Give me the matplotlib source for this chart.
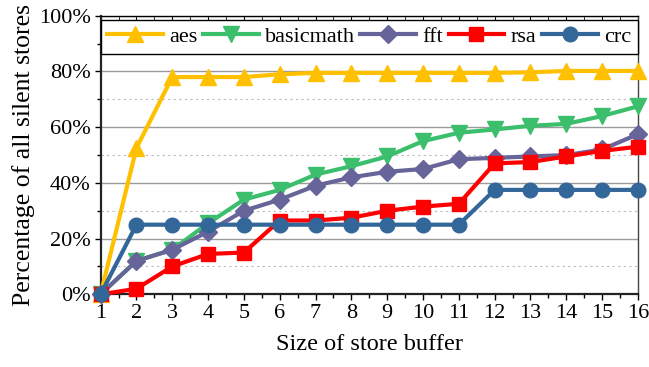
import matplotlib

matplotlib.use("Agg")

import matplotlib.pyplot as plt
from matplotlib.ticker import FuncFormatter, MultipleLocator

BUFFER_SIZES = list(range(1, 17))

AES = [0, 52.5, 78, 78, 78, 79, 79.5, 79.5, 79.5, 79.5, 79.5, 79.5, 79.7, 80.2, 80.2, 80.2]
BASICMATH = [0, 12, 16, 25.5, 34, 37.5, 43, 46, 49.5, 55, 58, 59.2, 60.5, 61.2, 64, 67.5]
FFT = [0, 12, 16, 22.5, 30, 34, 39, 42, 44, 45, 48.5, 49, 49.5, 50, 52, 57.5]
RSA = [0, 2, 10, 14.5, 15, 26.5, 26.5, 27.5, 30, 31.5, 32.5, 47, 47.5, 49.5, 51.5, 53]
CRC = [0, 25, 25, 25, 25, 25, 25, 25, 25, 25, 25, 37.5, 37.5, 37.5, 37.5, 37.5]

# name, values, colour, marker, marker size
SERIES = [
    ("aes", AES, "#FFC000", "^", 11),
    ("basicmath", BASICMATH, "#3CBF6C", "v", 11),
    ("fft", FFT, "#67649A", "D", 9.5),
    ("rsa", RSA, "#FF0000", "s", 9.5),
    ("crc", CRC, "#336699", "o", 10.5),
]

plt.rcParams.update({
    "font.family": ["Liberation Serif", "DejaVu Serif"],
    "font.size": 16,
})

fig, ax = plt.subplots(figsize=(6.49, 3.67), dpi=100)
fig.subplots_adjust(left=0.155, right=0.983, top=0.957, bottom=0.198)

for name, values, color, marker, size in SERIES:
    ax.plot(BUFFER_SIZES, values, color=color, marker=marker, linewidth=3,
            markersize=size, label=name, clip_on=False, zorder=3)

ax.set_xlim(1, 16)
ax.set_ylim(0, 100)
ax.set_xticks(BUFFER_SIZES)
ax.xaxis.set_minor_locator(MultipleLocator(0.5))
ax.yaxis.set_major_locator(MultipleLocator(20))
ax.yaxis.set_minor_locator(MultipleLocator(10))
ax.yaxis.set_major_formatter(FuncFormatter(lambda v, _: f"{v:.0f}%"))

ax.grid(True, which="major", axis="y", color="#9a9a9a", linewidth=1)
ax.grid(True, which="minor", axis="y", color="#bbbbbb", linewidth=0.8, linestyle=(0, (2, 3)))
ax.set_axisbelow(True)

ax.tick_params(axis="both", which="major", direction="out", length=4, width=1,
               labelsize=16, pad=3)
ax.tick_params(axis="both", which="minor", direction="out", length=3, width=1)

top = ax.secondary_xaxis("top")
top.set_xticks(BUFFER_SIZES)
top.xaxis.set_minor_locator(MultipleLocator(0.5))
top.tick_params(which="both", direction="in", length=3, labeltop=False)

for side in ("left", "bottom"):
    ax.spines[side].set_linewidth(1.6)
    ax.spines[side].set_color("#222222")
ax.spines["right"].set_linewidth(1)
ax.spines["right"].set_color("#444444")
top.spines["top"].set_linewidth(1)
top.spines["top"].set_color("#444444")

ax.set_xlabel("Size of store buffer", fontsize=17.5, labelpad=8)
ax.set_ylabel("Percentage of all silent stores", fontsize=18.5, labelpad=3)

leg = ax.legend(loc="upper left", bbox_to_anchor=(0.0, 0.986, 1.0, 0.0), mode="expand",
                ncol=5, fontsize=16, frameon=True, fancybox=False, edgecolor="black",
                framealpha=1, handlelength=2.5, handletextpad=0.3, columnspacing=0.3,
                borderpad=0.3, borderaxespad=0.0)
leg.get_frame().set_linewidth(1)
leg.set_zorder(5)

fig.savefig("out.png", dpi=100)
